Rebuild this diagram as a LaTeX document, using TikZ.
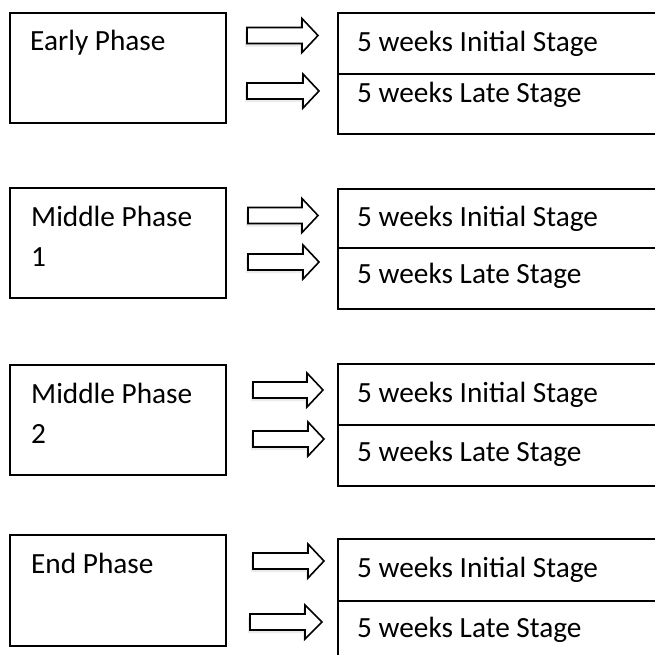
\documentclass[tikz,border=0pt]{standalone}
\usepackage{fontspec}
\setmainfont{Carlito}
\begin{document}
\begin{tikzpicture}[x=1pt,y=-1pt,
  phasebox/.style={draw=black,line width=1.6pt,rectangle,inner sep=0pt,anchor=north west},
  stagebox/.style={draw=black,line width=1.6pt,rectangle,inner sep=0pt,anchor=north west},
  lbl/.style={anchor=base west,inner sep=0pt,font=\fontsize{29.3}{35}\selectfont},
  barrow/.style={draw=black,line width=1.6pt,fill=white,line join=miter},
  bshadow/.style={fill=black,opacity=0.08}]
\useasboundingbox (0,0) rectangle (655,654);
\clip (0,0) rectangle (655,654);
\fill[white] (0,0) rectangle (655,654);
\newcommand\blockarrow[5]{%
  \fill[bshadow] (#1-2,#4-8+3) -- (#2-2,#4-8+3) -- (#2-2,#4-17+3) -- (#3-2,#4+3) -- (#2-2,#4+17+3) -- (#2-2,#4+8+3) -- (#1-2,#4+8+3) -- cycle;
  \draw[barrow] (#1,#4-8) coordinate (#5) -- (#2,#4-8) -- (#2,#4-17) -- (#3,#4) -- (#2,#4+17) -- (#2,#4+8) -- (#1,#4+8) -- cycle;}
% Group 1
\node[phasebox,minimum width=216pt,minimum height=110pt] (p1) at (9,12) {};
\node[stagebox,minimum width=340pt,minimum height=61pt] (s1a) at (337,12) {};
\node[stagebox,minimum width=340pt,minimum height=60pt] (s1b) at (337,73) {};
\node[lbl] (t1) at (30,50) {Early Phase};
\node[lbl] (t1a) at (357,51) {5 weeks Initial Stage};
\node[lbl] (t1b) at (357,102) {5 weeks Late Stage};
\blockarrow{247}{302}{318}{35.5}{a1a}
\blockarrow{247}{303}{319}{91}{a1b}
% Group 2
\node[phasebox,minimum width=216pt,minimum height=110pt] (p2) at (9,187) {};
\node[stagebox,minimum width=340pt,minimum height=59pt] (s2a) at (337,188) {};
\node[stagebox,minimum width=340pt,minimum height=61pt] (s2b) at (337,247) {};
\node[lbl] (t2) at (31,226) {Middle Phase};
\node[lbl] (t2n) at (31,266) {1};
\node[lbl] (t2a) at (357,226) {5 weeks Initial Stage};
\node[lbl] (t2b) at (357,283) {5 weeks Late Stage};
\blockarrow{248}{302}{318}{215.5}{a2a}
\blockarrow{248}{303}{319}{262}{a2b}
% Group 3
\node[phasebox,minimum width=216pt,minimum height=110pt] (p3) at (9,364) {};
\node[stagebox,minimum width=340pt,minimum height=61pt] (s3a) at (337,363) {};
\node[stagebox,minimum width=340pt,minimum height=61pt] (s3b) at (337,424) {};
\node[lbl] (t3) at (31,403) {Middle Phase};
\node[lbl] (t3n) at (31,443) {2};
\node[lbl] (t3a) at (357,402) {5 weeks Initial Stage};
\node[lbl] (t3b) at (357,461) {5 weeks Late Stage};
\blockarrow{253}{307}{323}{390}{a3a}
\blockarrow{253}{308}{324}{439}{a3b}
% Group 4
\node[phasebox,minimum width=216pt,minimum height=111pt] (p4) at (9,534) {};
\node[stagebox,minimum width=340pt,minimum height=62pt] (s4a) at (337,538) {};
\node[stagebox,minimum width=340pt,minimum height=70pt] (s4b) at (337,600) {};
\node[lbl] (t4) at (31,573) {End Phase};
\node[lbl] (t4a) at (357,577) {5 weeks Initial Stage};
\node[lbl] (t4b) at (357,637) {5 weeks Late Stage};
\blockarrow{253}{308}{324}{561}{a4a}
\blockarrow{250}{305}{322}{622}{a4b}
\end{tikzpicture}
\end{document}
